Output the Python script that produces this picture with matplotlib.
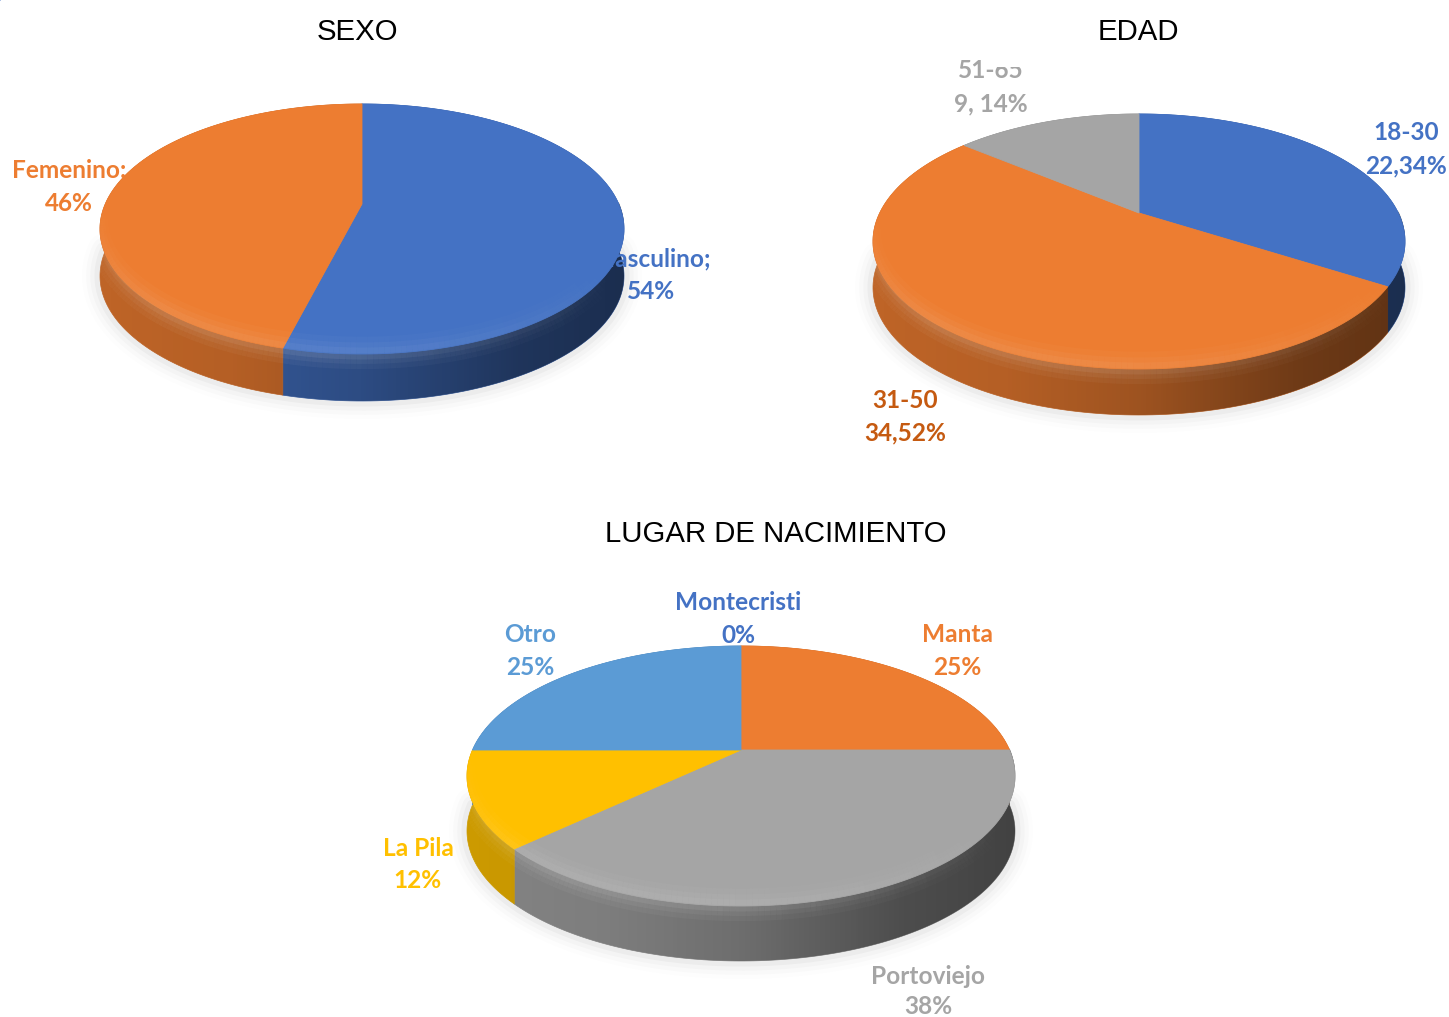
import numpy as np
import matplotlib
matplotlib.use("Agg")
import matplotlib.pyplot as plt
from matplotlib.path import Path
from matplotlib.patches import PathPatch, Rectangle
from matplotlib.collections import LineCollection
from matplotlib.colors import to_rgb

# ---------- data ----------
sexo_labels = ["Masculino;\n54%", "Femenino:\n46%"]
sexo_values = [54, 46]
edad_labels = ["18-30\n22,34%", "31-50\n34,52%", "51-65\n9, 14%"]
edad_values = [34, 52, 14]
lugar_labels = ["Montecristi\n0%", "Manta\n25%", "Portoviejo\n38%", "La Pila\n12%", "Otro\n25%"]
lugar_values = [0, 25, 38, 12, 25]
titles = ["SEXO", "EDAD", "LUGAR DE NACIMIENTO"]

BLUE, ORANGE, GRAY, YELLOW, LBLUE = "#4472C4", "#ED7D31", "#A5A5A5", "#FFC000", "#5B9BD5"

W, H = 1449, 1017
fig = plt.figure(figsize=(W / 100, H / 100), dpi=100)
ax = fig.add_axes([0, 0, 1, 1])


def darker(c, f):
    return tuple(v * f for v in to_rgb(c))


def draw_pie(values, colors, cx, cy, hw, up, down, depth):
    k_inv = (1 / up + 1 / down) / 2
    a = 1 / k_inv
    k = a / up - 1
    b = hw * np.sqrt(1 - k * k)

    def warp(x, y):
        d = 1 + k * y
        return cx + b * x / d, cy - a * y / d

    def rim(t1, t2, n=160, r=1.0):
        t = np.radians(np.linspace(t1, t2, n))
        return warp(r * np.cos(t), r * np.sin(t))

    wedges, _ = ax.pie(values, colors=colors, startangle=90, counterclock=False,
                       wedgeprops=dict(linewidth=0.6))
    # soft shadow
    lx, ly = rim(-180, 0)
    for lw, al in zip([26, 20, 14, 8], [0.008, 0.014, 0.02, 0.03]):
        ax.plot(lx, ly + depth, color="#000000", alpha=al, lw=lw, zorder=1,
                solid_capstyle="round")
    # side wall + perspective-warped top face
    for w, c in zip(wedges, colors):
        xr, yr = rim(w.theta1, w.theta2)
        side = np.column_stack([np.r_[xr, xr[::-1]], np.r_[yr, (yr + depth)[::-1]]])
        ax.add_patch(plt.Polygon(side, closed=True, fc=darker(c, 0.8), ec=darker(c, 0.8),
                                 lw=0.5, zorder=2))
        if w.theta2 - w.theta1 > 0:
            vx = np.r_[warp(0.0, 0.0)[0], xr]
            vy = np.r_[warp(0.0, 0.0)[1], yr]
            v = np.column_stack([np.r_[vx, vx[0]], np.r_[vy, vy[0]]])
            w._path = Path(v, closed=True)
        w.set_zorder(5)
        w.set_edgecolor(c)

    # horizontal shading on the side wall
    xa, ya = rim(-180, 0)
    clip_v = np.column_stack([np.r_[xa, xa[::-1]], np.r_[ya - 2, (ya + depth)[::-1]]])
    clip = PathPatch(Path(np.r_[clip_v, clip_v[:1]], closed=True), transform=ax.transData,
                     fc="none", ec="none")
    ax.add_patch(clip)
    gx = np.linspace(0, 1, 256)
    ramp = np.interp(gx, [0, 0.25, 0.5, 0.8, 1.0], [0.0, 0.05, 0.17, 0.42, 0.5])
    g = np.zeros((1, 256, 4))
    g[..., 3] = ramp
    im = ax.imshow(g, extent=[cx - hw, cx + hw, cy + down + depth + 4, cy - up], aspect="auto",
                   zorder=3, interpolation="bilinear")
    im.set_clip_path(clip)

    # soft lit bevel across the front rim: lighter on both sides of the edge
    t = np.linspace(-180, 0, 181)
    fade = np.clip(np.sin(np.radians(-t[:-1])) * 1.3, 0, 1) * np.clip((-t[:-1] - 25) / 70, 0, 1)
    rx, ry = rim(-180, 0, 181, r=1.0)
    for off, lw, al, z in [(-9, 12, 0.025, 6), (-6, 8, 0.035, 6), (-3, 5, 0.045, 6),
                           (4, 16, 0.04, 4), (3, 10, 0.05, 4), (2, 5, 0.07, 4)]:
        p = np.column_stack([rx, ry + off])
        segs = np.stack([p[:-1], p[1:]], axis=1)
        col = np.ones((len(segs), 4))
        col[:, 3] = fade * al
        ax.add_collection(LineCollection(segs, colors=col, linewidths=lw, zorder=z))


draw_pie(sexo_values, [BLUE, ORANGE], 362, 204, 262, 100, 150, 47)
draw_pie(edad_values, [BLUE, ORANGE, GRAY], 1139, 213, 266, 99, 156, 46)
draw_pie(lugar_values, [BLUE, ORANGE, GRAY, YELLOW, LBLUE], 741, 750, 274, 104, 156, 55)

ax.set_aspect("auto")
ax.set_xlim(0, W)
ax.set_ylim(H, 0)
ax.axis("off")

# ---------- titles ----------
for s, x, y in zip(titles, [357, 1138, 776], [32, 32, 534]):
    ax.text(x, y, s, ha="center", va="center", fontsize=21.2, family="Liberation Sans",
            color="black", zorder=20)

# ---------- labels ----------
def labels(items, colors, positions, gap=32.5):
    for s, c, (x, y) in zip(items, colors, positions):
        a, b = s.split("\n")
        line_gap = 29.5 if y > 960 else gap  # keep the lowest line inside the picture
        for txt, yy in ((a, y), (b, y + line_gap)):
            ax.text(x, yy, txt, color=c, ha="center", va="center_baseline", fontsize=17.6,
                    family="Lato", fontweight="bold", zorder=10)


labels(sexo_labels, [BLUE, ORANGE], [(651, 257), (69, 169)])
labels(edad_labels, [BLUE, "#C55A11", GRAY], [(1406, 131), (905, 398), (991, 69)])
labels(lugar_labels, [BLUE, ORANGE, GRAY, YELLOW, LBLUE],
       [(738, 601), (957, 633), (928, 974.5), (418, 846), (530, 633)])
# the "65" of the 51-65 label is cut off at the top in the source picture
ax.add_patch(Rectangle((992, 52), 32, 15, fc="white", ec="none", zorder=11))

fig.savefig("out.png", dpi=100, facecolor="white")
